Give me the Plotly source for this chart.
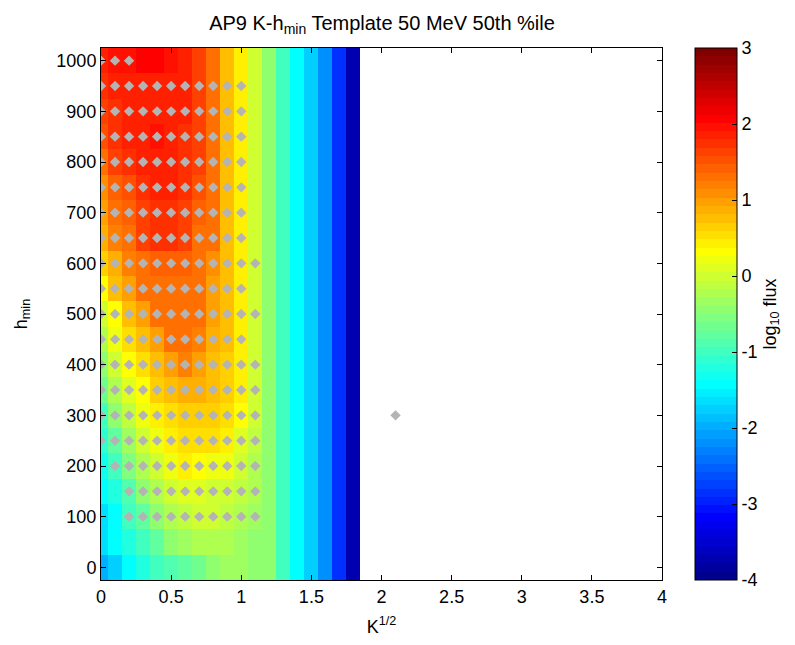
import numpy as np
import plotly.graph_objects as go

# Grid of the template: K^(1/2) columns and h_min rows
k_sqrt = [0.0, 0.1, 0.2, 0.3, 0.4, 0.5, 0.6, 0.7, 0.8, 0.9,
          1.0, 1.1, 1.2, 1.3, 1.4, 1.5, 1.6, 1.7, 1.8]
h_min = [0, 50, 100, 150, 200, 250, 300, 350, 400, 450, 500,
         550, 600, 650, 700, 750, 800, 850, 900, 950, 1000]

# log10 flux for K^(1/2) = 0.0 .. 1.1 (one list per h_min row, bottom to top)
flux_left = [
    [-2.00, -1.81, -1.38, -1.16, -0.94, -0.83, -0.72, -0.61, -0.45, -0.32, -0.32, -0.48],
    [-1.70, -1.48, -1.16, -0.94, -0.72, -0.50, -0.30, -0.28, -0.25, -0.28, -0.39, -0.50],
    [-1.60, -1.38, -0.94, -0.72, -0.50, -0.28, -0.17, -0.06, -0.06, -0.17, -0.28, -0.39],
    [-1.48, -1.16, -0.83, -0.50, -0.28, -0.06, 0.05, 0.05, -0.06, -0.06, -0.17, -0.28],
    [-1.27, -0.94, -0.60, -0.28, -0.06, 0.16, 0.38, 0.27, 0.16, 0.16, -0.06, -0.28],
    [-1.10, -0.72, -0.39, -0.06, 0.16, 0.38, 0.55, 0.55, 0.55, 0.38, 0.10, -0.17],
    [-0.94, -0.50, -0.17, 0.16, 0.38, 0.55, 0.70, 0.70, 0.70, 0.55, 0.30, -0.06],
    [-0.70, -0.28, 0.05, 0.27, 0.70, 0.80, 0.90, 0.90, 0.80, 0.70, 0.40, -0.06],
    [-0.40, -0.06, 0.27, 0.55, 0.80, 1.00, 1.15, 1.00, 0.80, 0.70, 0.40, -0.06],
    [-0.28, 0.16, 0.55, 0.80, 1.00, 1.25, 1.25, 1.15, 0.90, 0.80, 0.40, -0.06],
    [-0.06, 0.30, 0.80, 1.00, 1.25, 1.35, 1.35, 1.25, 1.00, 0.80, 0.40, -0.06],
    [0.27, 0.80, 1.00, 1.25, 1.35, 1.35, 1.35, 1.25, 1.00, 0.80, 0.40, -0.06],
    [0.60, 0.90, 1.15, 1.35, 1.45, 1.45, 1.45, 1.35, 1.10, 0.80, 0.40, -0.06],
    [0.90, 1.15, 1.35, 1.60, 1.70, 1.70, 1.60, 1.35, 1.25, 0.80, 0.40, -0.06],
    [1.00, 1.25, 1.45, 1.60, 1.70, 1.70, 1.60, 1.45, 1.25, 0.80, 0.40, -0.06],
    [1.05, 1.40, 1.50, 1.70, 1.80, 1.80, 1.70, 1.50, 1.25, 0.80, 0.40, -0.06],
    [1.35, 1.60, 1.70, 1.80, 1.80, 1.80, 1.70, 1.60, 1.25, 0.80, 0.40, -0.06],
    [1.50, 1.70, 1.80, 1.80, 2.00, 1.80, 1.70, 1.60, 1.25, 0.80, 0.40, -0.06],
    [1.60, 1.70, 1.80, 1.90, 1.90, 1.90, 1.80, 1.60, 1.25, 0.80, 0.40, -0.06],
    [1.70, 1.80, 1.90, 1.90, 1.90, 1.90, 1.80, 1.60, 1.25, 0.80, 0.40, -0.06],
    [1.80, 1.95, 1.95, 2.05, 2.05, 1.95, 1.80, 1.60, 1.25, 0.80, 0.40, -0.06],
]
# log10 flux for K^(1/2) = 1.2 .. 1.8 (same at every h_min)
flux_right = [-0.50, -0.94, -1.38, -1.81, -2.25, -2.90, -3.70]

# Sample points: one row of K^(1/2) values per h_min
sample_h = [1000, 950, 900, 850, 800, 750, 700, 650, 600, 550,
            500, 450, 400, 350, 300, 250, 200, 150, 100]
sample_k_first = [0.0, 0.0, 0.0, 0.0, 0.0, 0.0, 0.0, 0.0, 0.0, 0.0,
                  0.0, 0.0, 0.0, 0.0, 0.0, 0.0, 0.1, 0.2, 0.2]
sample_k_last = [0.2, 1.0, 1.0, 1.0, 1.0, 1.0, 1.0, 1.0, 1.1, 1.0,
                 1.1, 1.0, 1.1, 1.1, 1.1, 1.1, 1.1, 1.1, 1.1]
extra_k = [2.1]
extra_h = [300]

cbar_ticks = [-4, -3, -2, -1, 0, 1, 2, 3]
x_ticks = [0, 0.5, 1, 1.5, 2, 2.5, 3, 3.5, 4]
y_ticks = [0, 100, 200, 300, 400, 500, 600, 700, 800, 900, 1000]

z = [row + flux_right for row in flux_left]

pts_k, pts_h = [], []
for h, k0, k1 in zip(sample_h, sample_k_first, sample_k_last):
    n = int(round((k1 - k0) / 0.1)) + 1
    for i in range(n):
        pts_k.append(round(k0 + 0.1 * i, 2))
        pts_h.append(h)
pts_k += extra_k
pts_h += extra_h


def jet(m=64):
    """MATLAB-style jet colormap with m entries."""
    n = int(np.ceil(m / 4))
    u = np.concatenate([np.arange(1, n + 1) / n, np.ones(n - 1), np.arange(n, 0, -1) / n])
    g = int(np.ceil(n / 2)) - (1 if m % 4 == 1 else 0) + np.arange(1, len(u) + 1)
    r = g + n
    b = g - n
    cmap = np.zeros((m, 3))
    for idx, val in zip(g, u):
        if 1 <= idx <= m:
            cmap[idx - 1, 1] = val
    for idx, val in zip(r, u):
        if 1 <= idx <= m:
            cmap[idx - 1, 0] = val
    for idx, val in zip(b, u):
        if 1 <= idx <= m:
            cmap[idx - 1, 2] = val
    return cmap


cmap = jet(64)
colorscale = []
for i, (r, g, b) in enumerate(cmap):
    c = f"rgb({int(round(r * 255))},{int(round(g * 255))},{int(round(b * 255))})"
    colorscale.append([i / 64, c])
    colorscale.append([(i + 1) / 64, c])

FONT = "Liberation Sans, Arial, sans-serif"

fig = go.Figure()
fig.add_trace(go.Heatmap(
    x=k_sqrt, y=h_min, z=z,
    zmin=-4, zmax=3,
    colorscale=colorscale,
    colorbar=dict(
        x=1.0587, xanchor="left", xpad=0,
        y=0.5, yanchor="middle", len=1, lenmode="fraction", ypad=0,
        thickness=42, thicknessmode="pixels",
        outlinecolor="black", outlinewidth=1,
        tickvals=cbar_ticks, ticktext=[str(t) for t in cbar_ticks],
        ticks="inside", ticklen=5, tickcolor="black",
        tickfont=dict(family=FONT, size=18, color="black"),
        title=dict(text="log<sub>10</sub> flux", side="right",
                   font=dict(family=FONT, size=18, color="black")),
    ),
    hoverinfo="skip",
))
fig.add_trace(go.Scatter(
    x=pts_k, y=pts_h, mode="markers",
    marker=dict(symbol="diamond", size=8, color="#b4b4b4", line=dict(width=0)),
    showlegend=False, hoverinfo="skip",
))

axis_common = dict(
    showgrid=False, zeroline=False, showline=True, linecolor="black", linewidth=1,
    mirror="ticks", ticks="inside", ticklen=5, tickcolor="black",
    tickfont=dict(family=FONT, size=18, color="black"),
)

fig.update_layout(
    width=795, height=645,
    margin=dict(l=101, r=132, t=48, b=63),
    paper_bgcolor="white", plot_bgcolor="white",
    title=dict(text="AP9 K-h<sub>min</sub> Template 50 MeV 50th %ile",
               x=(101 + 663) / 2 / 795, xanchor="center", y=0.975, yanchor="top",
               font=dict(family=FONT, size=20, color="black")),
    xaxis=dict(range=[0, 4], tickvals=x_ticks, ticktext=[f"{t:g}" for t in x_ticks],
               title=dict(text="K<sup>1/2</sup>", font=dict(family=FONT, size=18, color="black"),
                          standoff=14),
               **axis_common),
    yaxis=dict(range=[-25, 1025], tickvals=y_ticks, ticktext=[str(t) for t in y_ticks],
               title=dict(text="h<sub>min</sub>", font=dict(family=FONT, size=18, color="black"),
                          standoff=24),
               **axis_common),
)

fig.write_html("out.html")
